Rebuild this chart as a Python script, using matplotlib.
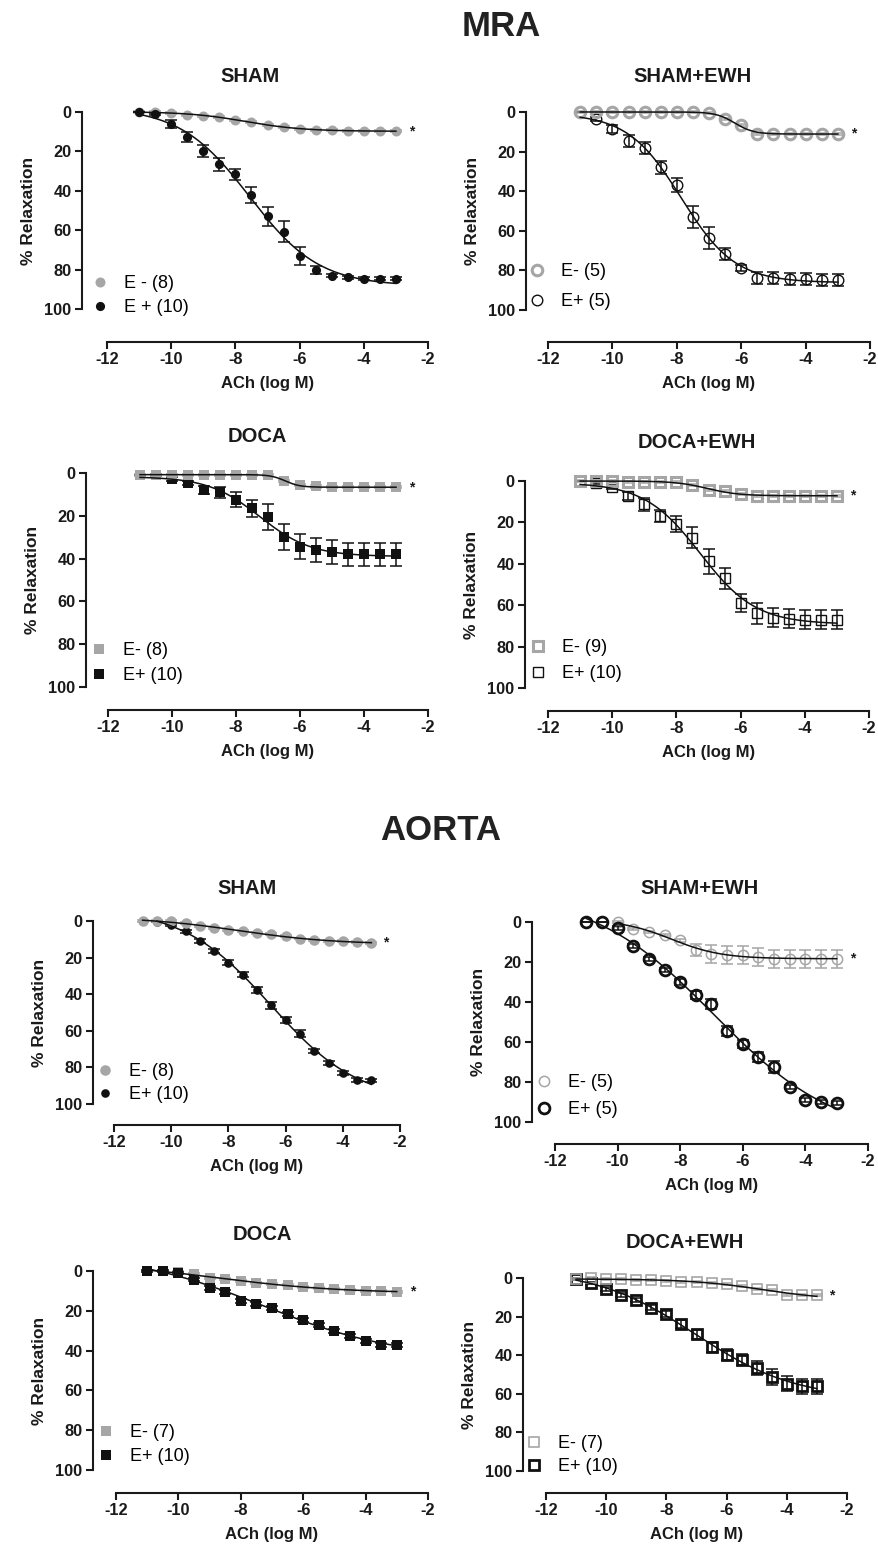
import numpy as np
import matplotlib
matplotlib.use("Agg")
import matplotlib.pyplot as plt

plt.rcParams['font.family'] = ['Liberation Sans', 'DejaVu Sans']
plt.rcParams['axes.unicode_minus'] = False

W, H = 879, 1551
GRAY = '#a6a6a6'
BLACK = '#111111'

# ---------------- data ----------------
conc = [-11.0, -10.5, -10.0, -9.5, -9.0, -8.5, -8.0, -7.5, -7.0,
        -6.5, -6.0, -5.5, -5.0, -4.5, -4.0, -3.5, -3.0]
conc_from_105 = conc[1:]
conc_from_10 = conc[2:]

xtick_vals = [-12, -10, -8, -6, -4, -2]
xtick_labels = ['-12', '-10', '-8', '-6', '-4', '-2']
ytick_vals = [0, 20, 40, 60, 80, 100]
ytick_labels = ['0', '20', '40', '60', '80', '100']

section_titles = ['MRA', 'AORTA']
panel_titles = ['SHAM', 'SHAM+EWH', 'DOCA', 'DOCA+EWH',
                'SHAM', 'SHAM+EWH', 'DOCA', 'DOCA+EWH']

# MRA SHAM
mra_sham_em = [0, 0, 0.5, 1.4, 2, 2.5, 4, 5, 6.5, 7.6, 8.8, 9.2, 9.2, 9.4, 9.5, 9.6, 9.8]
mra_sham_em_err = [0.5] * 17
mra_sham_ep = [0, 1, 6, 12.7, 20, 26.6, 31.7, 42, 53, 60.7, 73, 80, 83, 84, 84.7, 84.7, 84.7]
mra_sham_ep_err = [0, 0.5, 2, 2.5, 3, 3.5, 3, 4, 5, 5.5, 4.5, 2, 1, 0.8, 0.8, 0.8, 0.8]

# MRA SHAM+EWH
mra_shew_em = [0, 0, 0, 0, 0, 0, 0, 0, 0.5, 3.4, 6.8, 11, 11, 11, 11, 11, 11]
mra_shew_em_err = [0.5] * 17
mra_shew_ep = [0, 3.4, 8.5, 14.7, 18, 28, 37, 53, 63.5, 71.5, 78.8, 84, 84, 84.5, 84.5, 85, 85]
mra_shew_ep_err = [0, 1, 2, 3, 3, 3.5, 3.5, 5.5, 5.5, 3, 1.5, 3, 3, 3, 3, 3, 3]

# MRA DOCA
mra_doca_em = [0.8, 0.8, 0.8, 0.8, 0.8, 0.8, 0.8, 0.8, 1.0, 3.6, 5.8, 6.3, 6.7, 6.7, 6.7, 6.7, 6.7]
mra_doca_em_err = [0.5] * 17
mra_doca_ep = [0.8, 1, 2.8, 4.7, 8, 9, 12.5, 16.4, 20.6, 30, 34.4, 36, 37, 38, 38, 38, 38]
mra_doca_ep_err = [0, 0.5, 1, 1, 2, 2.5, 3.5, 4, 6, 6, 6, 5.5, 5.5, 5.5, 5.5, 5.5, 5.5]

# MRA DOCA+EWH
mra_doew_em = [0, 0, 0, 0.3, 0.3, 0.3, 0.6, 1.9, 4.4, 4.7, 6.3, 7.1, 7.1, 7.1, 7.1, 7.1, 7.1]
mra_doew_em_err = [0.5] * 17
mra_doew_ep = [0, 1, 2.7, 7.3, 11.3, 16.8, 20.8, 27.4, 38.7, 47, 59, 64, 66, 66.5, 67, 67, 67]
mra_doew_ep_err = [0, 0.5, 1, 2, 3, 3, 4, 5, 6, 5, 4.5, 5, 4.5, 4.5, 4.5, 4.5, 4.5]

# AORTA SHAM
ao_sham_em = [0, 0, 0.2, 1, 2.7, 3.8, 4.7, 5.5, 6.5, 7.3, 8.4, 9.6, 10.5, 11, 11, 11.5, 11.8]
ao_sham_em_err = [0.5] * 17
ao_sham_ep = [0.5, 2, 5.5, 11, 16.4, 22.7, 29.3, 37.8, 46, 54, 61.5, 71, 77.5, 83, 87, 87]
ao_sham_ep_err = [0.3, 0.5, 0.8, 1, 1, 1.2, 1.5, 1.8, 2, 1.8, 1.8, 1.2, 1, 1, 1, 0.8]

# AORTA SHAM+EWH
ao_shew_em = [0, 3.3, 5, 6.7, 9.2, 13.8, 15.8, 16.3, 16.7, 17.5, 18.3, 18.3, 18.3, 18.3, 18.3]
ao_shew_em_err = [0.5, 0.5, 0.5, 0.5, 0.8, 3, 4.5, 4.5, 4.5, 4.5, 4.5, 4.5, 4.5, 4.5, 4.5]
ao_shew_ep = [0, 0, 3, 12, 18.7, 24.2, 30.2, 36.3, 41.2, 54.5, 60.8, 67.5, 72.5, 82.5, 88.8, 90, 90.3]
ao_shew_ep_err = [0, 0, 1, 1, 1, 1, 1.5, 2, 2.5, 2.5, 2, 2.5, 3, 1, 1, 1, 1]

# AORTA DOCA
ao_doca_em = [0, 0, 0.5, 1.7, 3.3, 4.2, 5, 5.9, 6.7, 7.2, 8, 8.5, 8.9, 9.4, 10, 10.2, 10.5]
ao_doca_em_err = [0.5] * 17
ao_doca_ep = [0, 0, 0.8, 4.3, 8.4, 10.5, 15, 16.7, 18.6, 21.4, 24.4, 27.3, 30.3, 32.6, 35.3, 37, 37]
ao_doca_ep_err = [0.5, 0.5, 0.5, 0.8, 1, 1, 1, 1, 1, 1, 1, 1, 1, 1, 1, 1, 1]

# AORTA DOCA+EWH
ao_doew_em = [0.5, 0, 0.7, 0.7, 0.9, 1.2, 1.5, 2, 2, 2.6, 3.3, 4.1, 5.5, 6.4, 8.6, 9, 9]
ao_doew_em_err = [0.5] * 17
ao_doew_ep = [0.7, 2.6, 5.5, 8.6, 11.6, 15.4, 18.8, 24, 29.2, 35.8, 39.7, 42.3, 46.6, 51.3, 54.7, 56.1, 56.1]
ao_doew_ep_err = [0.5, 0.5, 1, 1, 1, 1.2, 1.5, 2, 2.2, 2.5, 3, 3, 3.5, 4, 4, 4, 4]

legend_labels = [
    ('E - (8)', 'E + (10)'), ('E- (5)', 'E+ (5)'), ('E- (8)', 'E+ (10)'), ('E- (9)', 'E+ (10)'),
    ('E- (8)', 'E+ (10)'), ('E- (5)', 'E+ (5)'), ('E- (7)', 'E+ (10)'), ('E- (7)', 'E+ (10)'),
]


# ---------------- fit (4-parameter logistic, grid search) ----------------
def fit_logistic(x, y):
    x = np.asarray(x, float)
    y = np.asarray(y, float)
    ec = np.arange(-11.5, -2.5, 0.02)
    hs = np.arange(0.2, 3.0, 0.02)
    E, Hh = np.meshgrid(ec, hs, indexing='ij')
    f = 1.0 / (1.0 + 10 ** ((E[..., None] - x) * Hh[..., None]))
    n = len(x)
    sf = f.sum(-1)
    sff = (f * f).sum(-1)
    sy = y.sum()
    sfy = (f * y).sum(-1)
    det = n * sff - sf ** 2
    with np.errstate(all='ignore'):
        b = (n * sfy - sf * sy) / det
        a = (sy - b * sf) / n
        res = ((a[..., None] + b[..., None] * f - y) ** 2).sum(-1)
    res = np.where(np.isfinite(res) & (np.abs(det) > 1e-9), res, np.inf)
    i = np.unravel_index(np.argmin(res), res.shape)
    return a[i], b[i], E[i], Hh[i]


# ---------------- layout ----------------
# axes box in px: (x at -12, x at -2, y at 0, y at 100); spine positions in px
panels = [
    dict(box=(107, 428, 112, 309), yspine=82, xspine=342, title_xy=(250, 76),
         em=dict(x=conc, y=mra_sham_em, err=mra_sham_em_err, marker='o', filled=True, ms=7.2, mew=0),
         ep=dict(x=conc, y=mra_sham_ep, err=mra_sham_ep_err, marker='o', filled=True, ms=6.6, mew=0),
         top='ep', leg=(100, 282, 309)),
    dict(box=(548, 870, 112, 310), yspine=526, xspine=342, title_xy=(693, 76),
         em=dict(x=conc, y=mra_shew_em, err=mra_shew_em_err, marker='o', filled=False, ms=7.6, mew=2.2),
         ep=dict(x=conc, y=mra_shew_ep, err=mra_shew_ep_err, marker='o', filled=False, ms=7.6, mew=1.0),
         top='em', leg=(537, 270, 303)),
    dict(box=(108, 428, 473, 687), yspine=86, xspine=710, title_xy=(257, 437),
         em=dict(x=conc, y=mra_doca_em, err=mra_doca_em_err, marker='s', filled=True, ms=7.2, mew=0),
         ep=dict(x=conc, y=mra_doca_ep, err=mra_doca_ep_err, marker='s', filled=True, ms=6.8, mew=0),
         top='em', leg=(99, 649, 677)),
    dict(box=(548, 869, 481, 688), yspine=525, xspine=711, title_xy=(697, 443),
         em=dict(x=conc, y=mra_doew_em, err=mra_doew_em_err, marker='s', filled=False, ms=7.0, mew=2.2),
         ep=dict(x=conc, y=mra_doew_ep, err=mra_doew_ep_err, marker='s', filled=False, ms=7.0, mew=1.0),
         top='em', leg=(538, 646, 675)),
    dict(box=(114, 400, 921, 1104), yspine=93, xspine=1125, title_xy=(247, 889),
         em=dict(x=conc, y=ao_sham_em, err=ao_sham_em_err, marker='o', filled=True, ms=7.6, mew=0),
         ep=dict(x=conc_from_105, y=ao_sham_ep, err=ao_sham_ep_err, marker='o', filled=True, ms=6.2, mew=0),
         top='em', leg=(105, 1070, 1096)),
    dict(box=(555, 868, 922, 1122), yspine=532, xspine=1144, title_xy=(700, 889),
         em=dict(x=conc_from_10, y=ao_shew_em, err=ao_shew_em_err, marker='o', filled=False, ms=7.4, mew=1.1),
         ep=dict(x=conc, y=ao_shew_ep, err=ao_shew_ep_err, marker='o', filled=False, ms=7.8, mew=2.0),
         top='ep', leg=(544, 1081, 1111)),
    dict(box=(116, 428, 1271, 1470), yspine=93, xspine=1493, title_xy=(262, 1235),
         em=dict(x=conc, y=ao_doca_em, err=ao_doca_em_err, marker='s', filled=True, ms=7.2, mew=0),
         ep=dict(x=conc, y=ao_doca_ep, err=ao_doca_ep_err, marker='s', filled=True, ms=6.8, mew=0),
         top='ep', leg=(106, 1431, 1458)),
    dict(box=(546, 847, 1278, 1471), yspine=523, xspine=1493, title_xy=(685, 1243),
         em=dict(x=conc, y=ao_doew_em, err=ao_doew_em_err, marker='s', filled=False, ms=7.0, mew=1.2),
         ep=dict(x=conc, y=ao_doew_ep, err=ao_doew_ep_err, marker='s', filled=False, ms=7.0, mew=2.0),
         top='em', leg=(534, 1442, 1468)),
]

fig = plt.figure(figsize=(W / 100, H / 100), dpi=100)
fig.patch.set_facecolor('white')

fig.text(501 / W, 1 - 26 / H, section_titles[0], ha='center', va='center',
         fontsize=25, fontweight='bold', color='#222222')
fig.text(441 / W, 1 - 830 / H, section_titles[1], ha='center', va='center',
         fontsize=25, fontweight='bold', color='#222222')


def draw_series(ax, s, color, z):
    x = np.asarray(s['x'], float)
    y = np.asarray(s['y'], float)
    e = np.asarray(s['err'], float)
    cont = ax.errorbar(x, y, yerr=e, fmt='none', ecolor=color, elinewidth=1.1,
                       capsize=4.5, capthick=1.1, zorder=z)
    for art in cont.get_children():
        art.set_clip_on(False)
    mfc = color if s['filled'] else 'none'
    h, = ax.plot(x, y, ls='none', marker=s['marker'], ms=s['ms'], mfc=mfc,
                 mec=color, mew=s['mew'], zorder=z + 0.1, clip_on=False)
    a, b, ec, hill = fit_logistic(x, y)
    xs = np.linspace(x.min(), x.max(), 300)
    ax.plot(xs, a + b / (1 + 10 ** ((ec - xs) * hill)), color=BLACK, lw=1.1,
            zorder=6, clip_on=False)
    return h


for i, p in enumerate(panels):
    x0, x1, y0, y1 = p['box']
    ax = fig.add_axes([x0 / W, 1 - y1 / H, (x1 - x0) / W, (y1 - y0) / H])
    ax.set_xlim(-12, -2)
    ax.set_ylim(100, 0)
    ax.patch.set_alpha(0)
    for s in ['top', 'right']:
        ax.spines[s].set_visible(False)
    ax.spines['left'].set_position(('outward', (x0 - p['yspine']) * 0.72))
    ax.spines['bottom'].set_position(('outward', (p['xspine'] - y1) * 0.72))
    for s in ['left', 'bottom']:
        ax.spines[s].set_linewidth(1.5)
        ax.spines[s].set_color('#1a1a1a')
    ax.tick_params(width=1.5, length=5, pad=2.5, colors='#1a1a1a')
    ax.set_xticks(xtick_vals, labels=xtick_labels, fontsize=11.8, fontweight='bold')
    ax.set_yticks(ytick_vals, labels=ytick_labels, fontsize=11.8, fontweight='bold')
    ax.set_xlabel('ACh (log M)', fontsize=12, fontweight='bold', labelpad=6, color='#1a1a1a')
    ax.set_ylabel('% Relaxation', fontsize=12.5, fontweight='bold', labelpad=6, color='#1a1a1a')

    tx, ty = p['title_xy']
    fig.text(tx / W, 1 - ty / H, panel_titles[i], ha='center', va='center',
             fontsize=14.5, fontweight='bold', color='#1a1a1a')

    z_em = 4 if p['top'] == 'em' else 3
    z_ep = 3 if p['top'] == 'em' else 4
    h_em = draw_series(ax, p['em'], GRAY, z_em)
    h_ep = draw_series(ax, p['ep'], BLACK, z_ep)

    ax.text(-2.5, p['em']['y'][-1], '*', ha='center', va='center', fontsize=10,
            fontweight='bold', color='#1a1a1a', clip_on=False)

    mx, ya, yb = p['leg']
    dy = yb - ya
    ls = max((dy - 20.0) / 18.0, 0.05)
    ax.legend(handles=[h_em, h_ep], labels=list(legend_labels[i]),
              loc='center left', bbox_to_anchor=((mx - 9) / W, 1 - (ya + yb) / 2 / H),
              bbox_transform=fig.transFigure, frameon=False, fontsize=13,
              handlelength=1.0, handletextpad=0.85, borderpad=0, borderaxespad=0,
              labelspacing=ls)

fig.savefig('out.png', dpi=100, facecolor='white')
